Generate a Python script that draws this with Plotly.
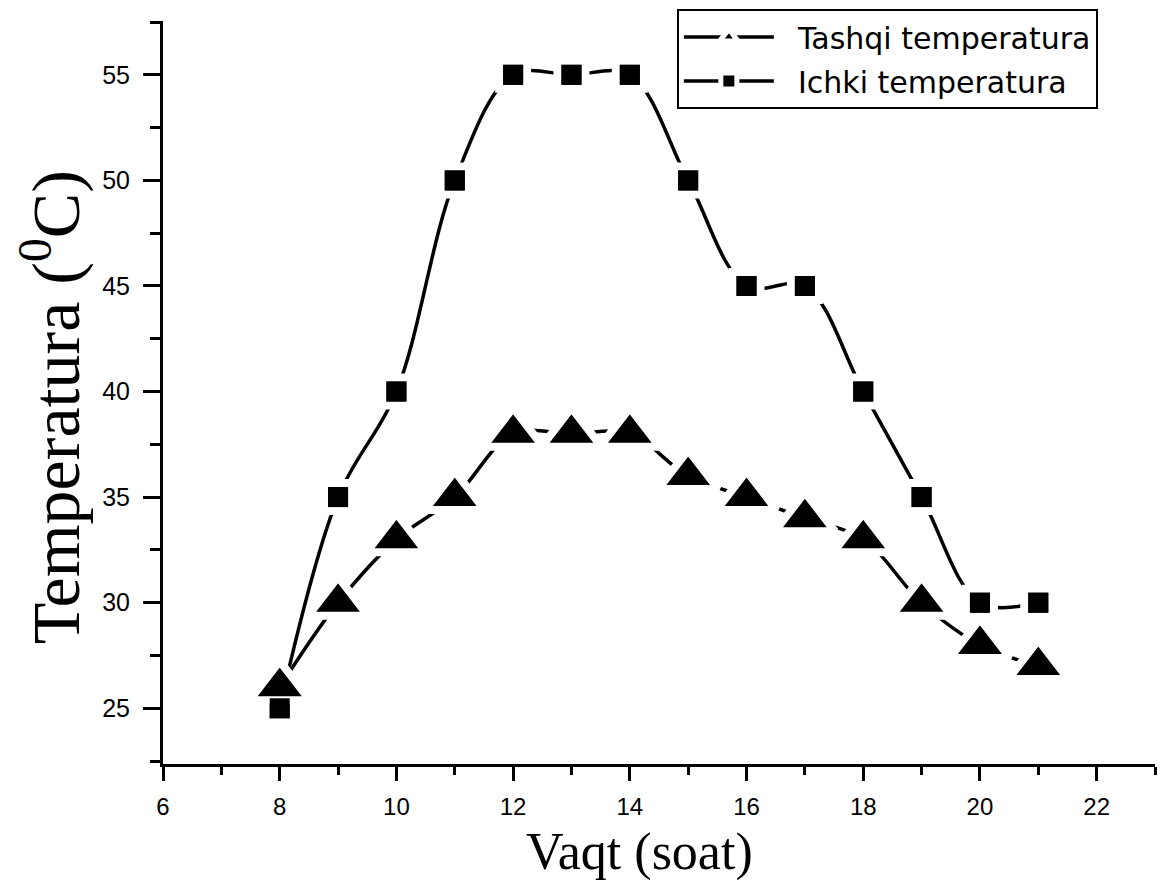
import plotly.graph_objects as go

hours = [8, 9, 10, 11, 12, 13, 14, 15, 16, 17, 18, 19, 20, 21]
tashqi = [26, 30, 33, 35, 38, 38, 38, 36, 35, 34, 33, 30, 28, 27]
ichki = [25, 35, 40, 50, 55, 55, 55, 50, 45, 45, 40, 35, 30, 30]
x_ticks = [6, 8, 10, 12, 14, 16, 18, 20, 22]
y_ticks = [25, 30, 35, 40, 45, 50, 55]

fig = go.Figure()

fig.add_trace(go.Scatter(
    x=hours, y=ichki, mode="lines+markers", name="\u00a0\u00a0Ichki temperatura",
    line=dict(color="black", width=3.5, shape="spline", smoothing=1),
    marker=dict(symbol="square", size=28, color="black", line=dict(color="white", width=8)),
    legendrank=2, legendgroup="b",
))
fig.add_trace(go.Scatter(
    x=hours, y=tashqi, mode="lines+markers", name="\u00a0\u00a0Tashqi temperatura",
    line=dict(color="black", width=3.5, shape="spline", smoothing=1),
    marker=dict(symbol="triangle-up", size=52, color="black", line=dict(color="white", width=8)),
    legendrank=1, legendgroup="a",
))
# solid markers on top (no gap outline)
fig.add_trace(go.Scatter(
    x=hours, y=ichki, mode="markers", showlegend=False, hoverinfo="skip",
    marker=dict(symbol="square", size=20, color="black"),
))
fig.add_trace(go.Scatter(
    x=hours, y=tashqi, mode="markers", showlegend=False, hoverinfo="skip",
    marker=dict(symbol="triangle-up", size=30, color="black"),
))

fig.update_layout(
    width=1158, height=878,
    margin=dict(l=155, r=11, t=13, b=122, autoexpand=False),
    paper_bgcolor="white", plot_bgcolor="white",
    showlegend=True,
    legend=dict(
        x=0.518, y=1.016, xanchor="left", yanchor="top",
        bordercolor="black", borderwidth=2, bgcolor="white",
        font=dict(family="DejaVu Sans", size=30, color="black"),
        itemwidth=90, tracegroupgap=2, traceorder="grouped",
    ),
    xaxis=dict(
        range=[6, 23], tickmode="array", tickvals=x_ticks,
        ticks="outside", ticklen=14, tickwidth=3, tickcolor="black",
        showline=True, linewidth=3, linecolor="black",
        showgrid=False, zeroline=False, automargin=False,
        tickfont=dict(family="Liberation Sans", size=24, color="black"),
        ticklabelstandoff=5,
        minor=dict(dtick=1, tick0=6, ticks="outside", ticklen=8, tickwidth=3, tickcolor="black", showgrid=False),
    ),
    yaxis=dict(
        range=[22.36, 57.55], tickmode="array", tickvals=y_ticks,
        ticks="outside", ticklen=17, tickwidth=3, tickcolor="black",
        showline=True, linewidth=3, linecolor="black",
        showgrid=False, zeroline=False, automargin=False,
        tickfont=dict(family="Liberation Sans", size=25, color="black"),
        ticklabelstandoff=8,
        minor=dict(dtick=2.5, tick0=22.5, ticks="outside", ticklen=10, tickwidth=3, tickcolor="black", showgrid=False),
    ),
    annotations=[
        dict(text="Vaqt (soat)", xref="paper", yref="paper", x=0.48, y=-0.119,
             xanchor="center", yanchor="middle", showarrow=False,
             font=dict(family="Liberation Serif", size=52, color="black")),
        dict(text="Temperatura (<sup>0</sup>C)", xref="paper", yref="paper", x=-0.112, y=0.48,
             xanchor="center", yanchor="middle", showarrow=False, textangle=-90,
             font=dict(family="Liberation Serif", size=68, color="black")),
    ],
)

fig.write_html("out.html")
